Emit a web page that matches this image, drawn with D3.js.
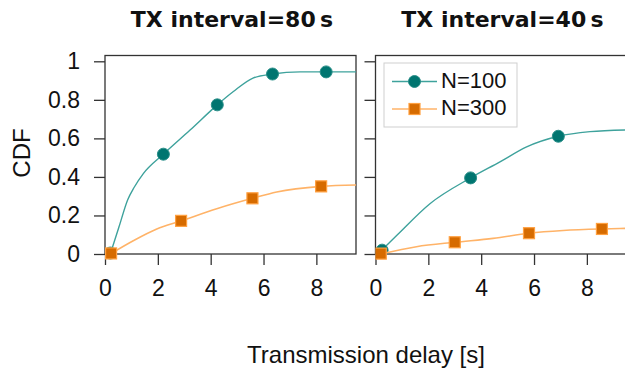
<!DOCTYPE html>
<html>
<head>
<meta charset="utf-8">
<script src="https://cdn.jsdelivr.net/npm/d3@7"></script>
<style>
  body { margin: 0; background: #fff; }
  text { font-family: "Liberation Sans", Arial, sans-serif; fill: #111; }
</style>
</head>
<body>
<div id="main"></div>
<script>
// values, [delay (s), CDF]
var xTicks = [0, 2, 4, 6, 8];
var yTicks = [0, 0.2, 0.4, 0.6, 0.8, 1];
var titles = ['TX interval=80\u2009s', 'TX interval=40\u2009s'];
var seriesNames = ['N=100', 'N=300'];

var line80n100 = [[0.2, 0], [0.53, 0.141], [0.86, 0.282], [1.1, 0.345], [1.45, 0.417], [2.21, 0.518],
    [3.22, 0.643], [4.25, 0.774], [4.86, 0.843], [5.6, 0.913], [6.34, 0.934], [7.39, 0.945],
    [8.37, 0.945], [9.5, 0.945]];
var mark80n100 = [[0.2, 0.005], [2.21, 0.518], [4.25, 0.774], [6.34, 0.934], [8.37, 0.945]];
var line80n300 = [[0.2, 0], [1.07, 0.069], [1.96, 0.13], [2.88, 0.172], [4.23, 0.235], [5.58, 0.289],
    [6.5, 0.322], [8.18, 0.351], [9.5, 0.358]];
var mark80n300 = [[0.23, 0.003], [2.88, 0.172], [5.58, 0.289], [8.18, 0.351]];

var line40n100 = [[0.25, 0.02], [0.55, 0.062], [0.86, 0.104], [2.06, 0.261], [3.6, 0.395], [4.71, 0.478],
    [5.72, 0.556], [6.92, 0.611], [8.12, 0.635], [9.5, 0.644]];
var mark40n100 = [[0.25, 0.02], [3.6, 0.395], [6.92, 0.611]];
var line40n300 = [[0.2, 0], [1.55, 0.038], [3.0, 0.061], [4.45, 0.081], [5.81, 0.108], [7.1, 0.122],
    [8.57, 0.13], [9.5, 0.133]];
var mark40n300 = [[0.2, 0.002], [3.0, 0.061], [5.81, 0.108], [8.57, 0.13]];

var colors = {
    n100: { line: '#3ea29c', fill: '#007570', stroke: '#2a8f89' },
    n300: { line: '#ffb368', fill: '#d66b00', stroke: '#ffa040' }
};

var svg = d3.select('#main').append('svg').attr('width', 625).attr('height', 368);

var plotTop = 55.5, plotBottom = 254;
var y = d3.scaleLinear().domain([0, 1]).range([plotBottom, 61.3]);

var panels = [
    { left: 105, right: 356, title: titles[0], labels: true,
      n100: { line: line80n100, marks: mark80n100 }, n300: { line: line80n300, marks: mark80n300 } },
    { left: 375.5, right: 626.5, title: titles[1], labels: false,
      n100: { line: line40n100, marks: mark40n100 }, n300: { line: line40n300, marks: mark40n300 } }
];

panels.forEach(function (p, pi) {
    var x = d3.scaleLinear().domain([0, 9.5]).range([p.left, p.right]);
    var g = svg.append('g');

    g.append('clipPath').attr('id', 'clip' + pi)
        .append('rect').attr('x', p.left).attr('y', plotTop - 8)
        .attr('width', p.right - p.left).attr('height', plotBottom - plotTop + 16);

    // axes
    var ya = g.append('g').attr('transform', 'translate(' + p.left + ',0)')
        .call(d3.axisLeft(y).tickValues(yTicks).tickSize(11).tickPadding(14)
            .tickFormat(p.labels ? d3.format('') : ''));
    var xa = g.append('g').attr('transform', 'translate(0,' + plotBottom + ')')
        .call(d3.axisBottom(x).tickValues(xTicks).tickSize(11).tickPadding(15).tickFormat(d3.format('')));
    [ya, xa].forEach(function (a) {
        a.select('.domain').remove();
        a.selectAll('line').attr('stroke', '#333').attr('stroke-width', 1.3);
        a.selectAll('text').style('font-size', '23px').attr('fill', '#111');
    });

    // frame
    g.append('rect').attr('x', p.left).attr('y', plotTop)
        .attr('width', p.right - p.left).attr('height', plotBottom - plotTop)
        .attr('fill', 'none').attr('stroke', '#333').attr('stroke-width', 1.3);

    var line = d3.line().x(function (d) { return x(d[0]); }).y(function (d) { return y(d[1]); })
        .curve(d3.curveMonotoneX);

    var plot = g.append('g').attr('clip-path', 'url(#clip' + pi + ')');

    plot.append('path').datum(p.n100.line).attr('d', line)
        .attr('fill', 'none').attr('stroke', colors.n100.line).attr('stroke-width', 1.4);
    plot.selectAll('circle').data(p.n100.marks).enter().append('circle')
        .attr('cx', function (d) { return x(d[0]); })
        .attr('cy', function (d) { return y(d[1]); })
        .attr('r', 6)
        .attr('fill', colors.n100.fill).attr('stroke', colors.n100.stroke).attr('stroke-width', 1);

    plot.append('path').datum(p.n300.line).attr('d', line)
        .attr('fill', 'none').attr('stroke', colors.n300.line).attr('stroke-width', 1.6);
    plot.selectAll('rect.sq').data(p.n300.marks).enter().append('rect').attr('class', 'sq')
        .attr('x', function (d) { return x(d[0]) - 5.5; })
        .attr('y', function (d) { return y(d[1]) - 5.5; })
        .attr('width', 11).attr('height', 11)
        .attr('fill', colors.n300.fill).attr('stroke', colors.n300.stroke).attr('stroke-width', 1.2);

    svg.append('text')
        .attr('x', (p.left + p.right) / 2 + 1.5).attr('y', 27)
        .attr('text-anchor', 'middle')
        .style('font-family', '"DejaVu Sans", sans-serif')
        .style('font-weight', 'bold').style('font-size', '22px')
        .text(p.title);
});

// axis labels
svg.append('text').attr('transform', 'translate(30,153) rotate(-90)')
    .attr('text-anchor', 'middle').style('font-size', '24px').text('CDF');
svg.append('text').attr('x', 366).attr('y', 363)
    .attr('text-anchor', 'middle').style('font-size', '24px').text('Transmission delay [s]');

// legend
var lg = svg.append('g');
lg.append('rect').attr('x', 384).attr('y', 63).attr('width', 133).attr('height', 64)
    .attr('fill', '#fff').attr('stroke', '#cfcfcf').attr('stroke-width', 1);
seriesNames.forEach(function (name, i) {
    var c = i === 0 ? colors.n100 : colors.n300;
    var ly = 81.5 + i * 27.5;
    lg.append('line').attr('x1', 392).attr('x2', 437).attr('y1', ly).attr('y2', ly)
        .attr('stroke', c.line).attr('stroke-width', i === 0 ? 1.4 : 1.6);
    if (i === 0) {
        lg.append('circle').attr('cx', 414.5).attr('cy', ly).attr('r', 6)
            .attr('fill', c.fill).attr('stroke', c.stroke);
    } else {
        lg.append('rect').attr('x', 409).attr('y', ly - 5.5).attr('width', 11).attr('height', 11)
            .attr('fill', c.fill).attr('stroke', c.stroke).attr('stroke-width', 1.2);
    }
    lg.append('text').attr('x', 441).attr('y', ly + 6).style('font-size', '22px').text(name);
});
</script>
</body>
</html>
